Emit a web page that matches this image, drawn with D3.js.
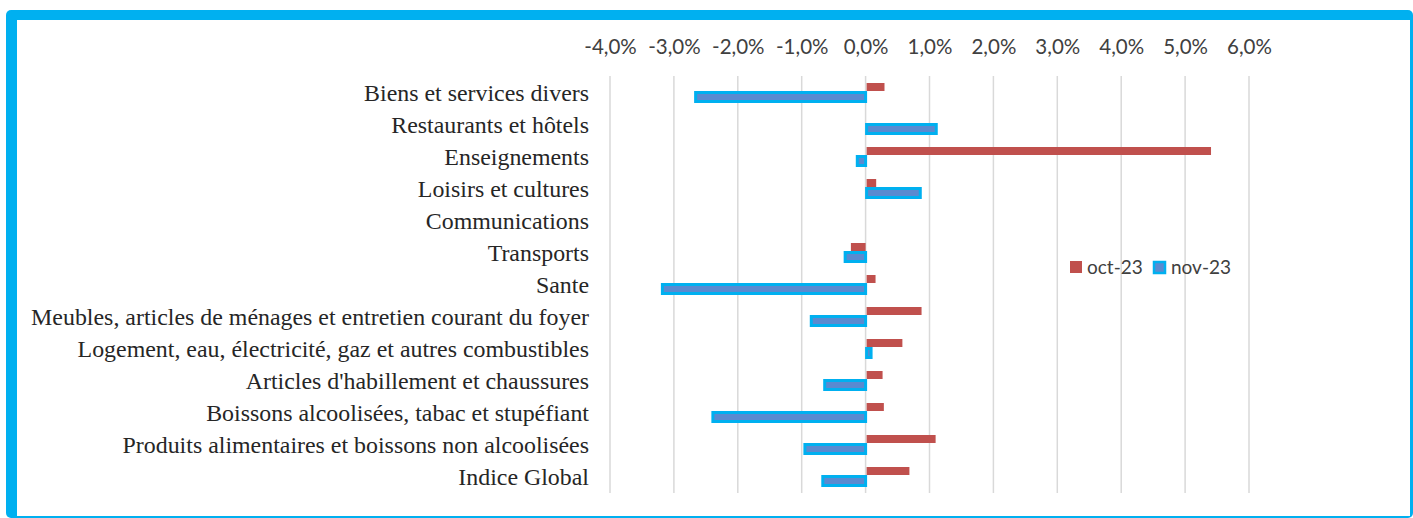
<!DOCTYPE html>
<html lang="fr">
<head>
<meta charset="UTF-8">
<title>Variation des prix par fonction</title>
<script src="https://d3js.org/d3.v7.min.js"></script>
<style>
    body { margin: 0; background: #fff; }
    .cat { font-family: "Liberation Serif", "Times New Roman", serif; font-size: 23.9px; fill: #262626; }
    .tick text { font-family: Lato, "Open Sans", sans-serif; font-size: 20.5px; fill: #404040; }
    .legend text { font-family: Lato, "Open Sans", sans-serif; font-size: 19px; fill: #404040; }
</style>
</head>
<body>
<div id="chart"></div>
<script>
    // categories, top to bottom
    const categories = [
        "Biens et services divers",
        "Restaurants et hôtels",
        "Enseignements",
        "Loisirs et cultures",
        "Communications",
        "Transports",
        "Sante",
        "Meubles, articles de ménages et entretien courant du foyer",
        "Logement, eau, électricité, gaz et autres combustibles",
        "Articles d'habillement et chaussures",
        "Boissons alcoolisées, tabac et stupéfiant",
        "Produits alimentaires et boissons non alcoolisées",
        "Indice Global"
    ];
    const oct23 = [0.0028, 0.0000, 0.0539, 0.0015, 0.0000, -0.0023, 0.0014, 0.0086, 0.0056, 0.0025, 0.0027, 0.0108, 0.0067];
    const nov23 = [-0.0266, 0.0109, -0.0013, 0.0084, 0.0000, -0.0032, -0.0318, -0.0085, 0.0007, -0.0064, -0.0239, -0.0095, -0.0067];
    const seriesNames = ["oct-23", "nov-23"];
    const xTicks = [-0.04, -0.03, -0.02, -0.01, 0, 0.01, 0.02, 0.03, 0.04, 0.05, 0.06];

    const W = 1413, H = 518;
    const blue = "#00B0F0", red = "#C0504D", navy = "#5A8AD0";

    const fr = d3.formatLocale({ decimal: ",", thousands: " ", grouping: [3], currency: ["", " €"], minus: "-", percent: "%" });
    const fmt = fr.format(".1%");

    const svg = d3.select("#chart").append("svg")
        .attr("width", W)
        .attr("height", H);

    // frame
    svg.append("rect").attr("x", 6).attr("y", 10).attr("width", W - 6).attr("height", H - 10)
        .attr("rx", 5).attr("fill", blue);
    svg.append("rect").attr("x", 17).attr("y", 20).attr("width", W - 3 - 17).attr("height", H - 2 - 20)
        .attr("fill", "#fff");

    const x = d3.scaleLinear().domain([-0.04, 0.06]).range([610, 1249]);
    const y = d3.scaleBand().domain(categories).range([76, 492]);

    // gridlines
    svg.append("g").selectAll("line")
        .data(xTicks)
        .join("line")
        .attr("x1", d => x(d)).attr("x2", d => x(d))
        .attr("y1", 76).attr("y2", 493)
        .attr("stroke", "#D9D9D9")
        .attr("stroke-width", 1.5);

    // top axis labels
    svg.append("g")
        .attr("transform", "translate(0,54)")
        .call(d3.axisTop(x).tickValues(xTicks).tickFormat(fmt).tickSize(0).tickPadding(0))
        .call(g => g.select(".domain").remove());

    // category labels
    svg.append("g").selectAll("text")
        .data(categories)
        .join("text")
        .attr("class", "cat")
        .attr("x", 589)
        .attr("y", d => y(d) + y.bandwidth() / 2 + 9)
        .attr("text-anchor", "end")
        .text(d => d);

    const barH = 8;

    // oct-23 bars
    svg.append("g").selectAll("rect")
        .data(oct23)
        .join("rect")
        .attr("x", d => x(Math.min(0, d)) + (d >= 0 ? 1 : 0))
        .attr("width", d => Math.abs(x(d) - x(0)))
        .attr("y", (d, i) => y(categories[i]) + y.bandwidth() / 2 - 9)
        .attr("height", barH)
        .attr("fill", red);

    // nov-23 bars
    svg.append("g").selectAll("rect")
        .data(nov23)
        .join("rect")
        .attr("x", d => x(Math.min(0, d)) + (d >= 0 ? 1 : 0))
        .attr("width", d => Math.abs(x(d) - x(0)))
        .attr("y", (d, i) => y(categories[i]) + y.bandwidth() / 2 + 0.5)
        .attr("height", barH + 1)
        .attr("fill", navy)
        .attr("stroke", d => d === 0 ? "none" : blue)
        .attr("stroke-width", 3);

    // legend
    const legend = svg.append("g").attr("class", "legend");
    legend.append("rect").attr("x", 1070).attr("y", 261).attr("width", 12).attr("height", 12).attr("fill", red);
    legend.append("text").attr("x", 1087).attr("y", 274).text(seriesNames[0]);
    legend.append("rect").attr("x", 1154).attr("y", 262).attr("width", 11).attr("height", 11)
        .attr("fill", navy).attr("stroke", blue).attr("stroke-width", 2.5);
    legend.append("text").attr("x", 1171).attr("y", 274).text(seriesNames[1]);
</script>
</body>
</html>
